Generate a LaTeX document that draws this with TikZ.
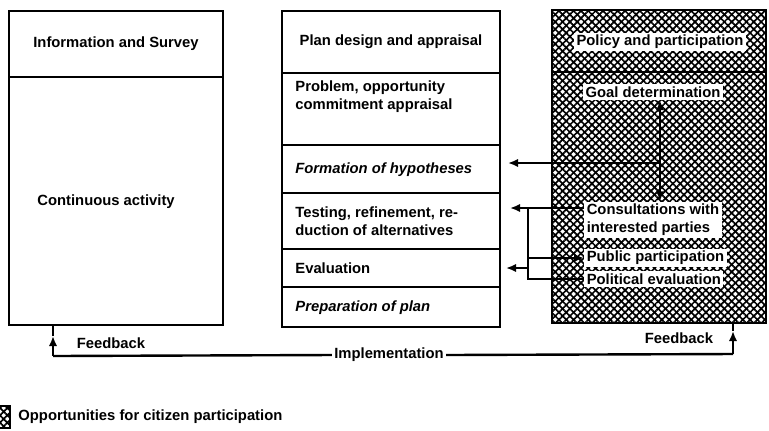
\documentclass[tikz,border=0pt]{standalone}
\usepackage{fontspec}
\setmainfont{Liberation Sans}
\usetikzlibrary{arrows.meta,patterns.meta,calc,positioning}

\tikzset{
  boxline/.style={line width=1.4pt},
  hatched/.style={preaction={pattern={Lines[angle=45,distance=2.6pt,line width=0.85pt]}},
    pattern={Lines[angle=-45,distance=2.6pt,line width=0.85pt]}},
  txt/.style={font=\fontsize{7.4}{9}\selectfont\bfseries, inner sep=1pt},
  cell/.style={txt, anchor=west, align=left},
  spot/.style={txt, fill=white, inner sep=1.2pt},
  link/.style={line width=1.2pt},
  arr/.style={-{Latex[length=5pt,width=4.2pt]}},
  both/.style={{Latex[length=5pt,width=4.2pt]}-{Latex[length=5pt,width=4.2pt]}}
}

\begin{document}
\begin{tikzpicture}[x=0.5pt,y=-0.5pt]
  \useasboundingbox (0,0) rectangle (769,430);

  % left column
  \draw[boxline] (9,11) rectangle (223,325);
  \draw[boxline] (9,77) -- (223,77);
  \node[txt] (info) at (116,44) {Information and Survey};
  \node[cell] (cont) at (35,202) {Continuous activity};

  % middle column
  \draw[boxline] (282,11) rectangle (500,327);
  \foreach \y in {73,145,193,249,287}
    \draw[boxline] (282,\y) -- (500,\y);
  \coordinate (midE) at (500,0);
  \node[txt] (plan) at (391,42) {Plan design and appraisal};
  \node[cell] (prob) at (293,97) {Problem, opportunity\\commitment appraisal};
  \node[cell, font=\fontsize{7.4}{9}\selectfont\bfseries\itshape] (hypo) at (293,170) {Formation of hypotheses};
  \node[cell] (test) at (293,221) {Testing, refinement, re-\\duction of alternatives};
  \node[cell] (eval) at (293,268) {Evaluation};
  \node[cell, font=\fontsize{7.4}{9}\selectfont\bfseries\itshape] (prep) at (293,308) {Preparation of plan};

  % right column (hatched)
  \draw[boxline, hatched] (552,10) rectangle (766,323);
  \draw[boxline] (552,72) -- (766,72);
  \node[spot] (policy) at (660,42) {Policy and participation};
  \node[spot] (goal) at (653,92) {Goal determination};
  \node[spot, anchor=west, align=left] (consult) at (584,220) {Consultations with\\interested parties};
  \node[spot, anchor=west] (public) at (584,258) {Public participation};
  \node[spot, anchor=west] (politic) at (584,279) {Political evaluation};

  % links between columns
  \coordinate (gx) at (660,0);
  \coordinate (gbr) at (660,163);
  \coordinate (jtop) at (528,208);
  \coordinate (jpub) at (528,258);
  \coordinate (jev) at (528,268);
  \coordinate (jbot) at (528,279);
  \draw[link, both] (goal.south -| gx) -- (consult.north -| gx);
  \draw[link, arr] (gbr) -- ($(midE |- gbr)+(8,0)$);
  \draw[link, arr] (consult.west |- jtop) -- ($(midE |- jtop)+(10,0)$);
  \draw[link] (jtop) -- (jbot) -- (politic.west);
  \draw[link, arr] (jpub) -- (public.west);
  \draw[link, arr] (jev) -- ($(midE |- jev)+(6,0)$);

  % feedback loop
  \node[txt] (impl) at (389,355) {Implementation};
  \node[txt] (fbl) at (111,343) {Feedback};
  \node[txt] (fbr) at (679,338) {Feedback};
  \coordinate (fl) at (53,356);
  \coordinate (lmid) at (53,336);
  \coordinate (lbot) at (53,325);
  \coordinate (fr) at (733,354);
  \coordinate (rmid) at (733,331);
  \coordinate (rbot) at (733,323);
  \draw[link] (impl.west) -- (fl);
  \draw[link, arr] (fl) -- (lmid);
  \draw[link] (lmid) -- (lbot);
  \draw[link] (impl.east) -- (fr);
  \draw[link, arr] (fr) -- (rmid);
  \draw[link] (rmid) -- (rbot);

  % legend
  \draw[line width=0.8pt, hatched] (-6,406) rectangle (10,428);
  \node[txt, anchor=west] (legend) at (16,417) {Opportunities for citizen participation};
\end{tikzpicture}
\end{document}
